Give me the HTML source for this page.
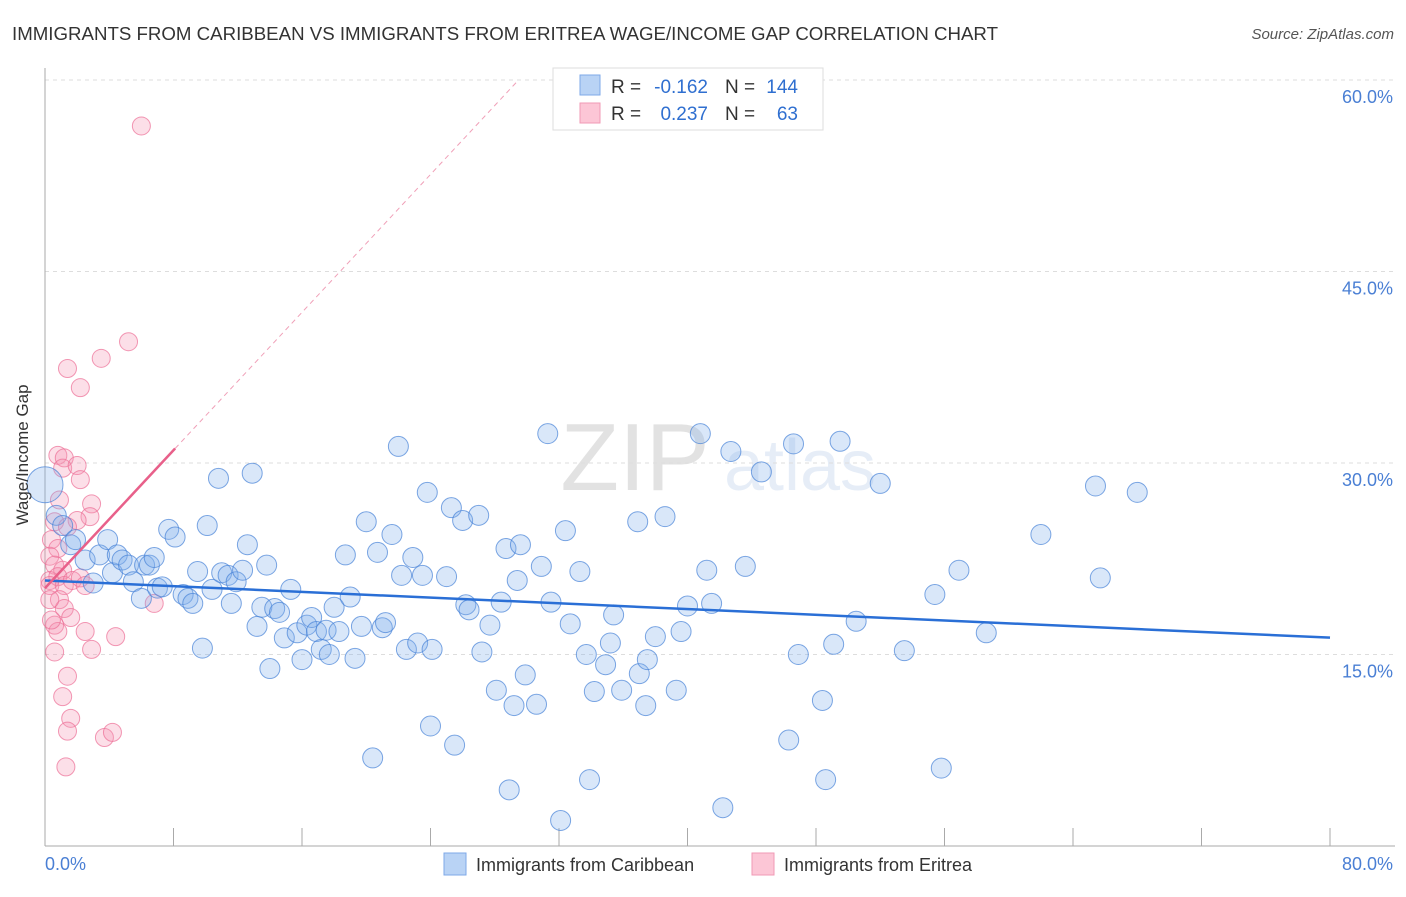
<!DOCTYPE html>
<html><head><meta charset="utf-8"><style>
body{margin:0;background:#fff;font-family:"Liberation Sans",sans-serif;}
svg text{font-family:"Liberation Sans",sans-serif;}
</style></head><body>
<svg id="chart" width="1406" height="892" xmlns="http://www.w3.org/2000/svg">
<text x="12" y="40" font-size="18" fill="#333" textLength="986" lengthAdjust="spacingAndGlyphs">IMMIGRANTS FROM CARIBBEAN VS IMMIGRANTS FROM ERITREA WAGE/INCOME GAP CORRELATION CHART</text>
<text x="1394" y="39" font-size="15" fill="#555" font-style="italic" text-anchor="end">Source: ZipAtlas.com</text>
<g opacity="0.18">
<text x="635" y="490" font-size="96" font-family="Liberation Serif" fill="#666" text-anchor="middle">ZIP</text>
<text x="800" y="490" font-size="72" fill="#7aa0d8" text-anchor="middle">atlas</text>
</g>
<g id="grid"></g>
<g id="axes"></g>
<g id="pts"></g>
<g id="trends"></g>
<text transform="translate(28,455) rotate(-90)" font-size="17" fill="#333" text-anchor="middle">Wage/Income Gap</text>
<g>
<rect x="553" y="68" width="270" height="62" fill="#fff" stroke="#ddd"/>
<rect x="580" y="75" width="20" height="20" fill="#b9d3f5" stroke="#7ea8e8"/>
<rect x="580" y="103" width="20" height="20" fill="#fcc6d6" stroke="#f09ab5"/>
<text x="611" y="93" font-size="19" fill="#333">R =</text>
<text x="708" y="93" font-size="19" fill="#2f6fd0" text-anchor="end">-0.162</text>
<text x="725" y="93" font-size="19" fill="#333">N =</text>
<text x="798" y="93" font-size="19" fill="#2f6fd0" text-anchor="end">144</text>
<text x="611" y="120" font-size="19" fill="#333">R =</text>
<text x="708" y="120" font-size="19" fill="#2f6fd0" text-anchor="end">0.237</text>
<text x="725" y="120" font-size="19" fill="#333">N =</text>
<text x="798" y="120" font-size="19" fill="#2f6fd0" text-anchor="end">63</text>
</g>
<g>
<rect x="444" y="853" width="22" height="22" fill="#b9d3f5" stroke="#7ea8e8"/>
<text x="476" y="871" font-size="18" fill="#333">Immigrants from Caribbean</text>
<rect x="752" y="853" width="22" height="22" fill="#fcc6d6" stroke="#f09ab5"/>
<text x="784" y="871" font-size="18" fill="#333">Immigrants from Eritrea</text>
</g>
</svg>
<script>
const yTicks=[15,30,45,60];
const yTickLabels=["15.0%","30.0%","45.0%","60.0%"];
const xTicks=[0,8,16,24,32,40,48,56,64,72,80];
const xTickLabels=["0.0%","80.0%"];
const blueX=[0,0.7,1.1,1.6,1.9,2.5,3.0,3.4,3.9,4.2,4.5,4.8,5.2,5.5,6.0,6.2,6.5,6.8,7.0,7.3,7.7,8.1,8.6,8.9,9.2,9.5,9.8,10.1,10.4,10.8,11.0,11.4,11.6,11.9,12.3,12.6,12.9,13.2,13.5,13.8,14.0,14.3,14.6,14.9,15.3,15.7,16.0,16.3,16.6,16.9,17.2,17.5,17.7,18.0,18.3,18.7,19.0,19.3,19.7,20.0,20.4,20.7,21.0,21.2,21.6,22.0,22.2,22.5,22.9,23.2,23.5,23.8,24.0,24.1,25.0,25.3,25.5,26.0,26.2,26.4,27.0,27.2,27.7,28.1,28.4,28.7,28.9,29.2,29.4,29.6,29.9,30.6,30.9,31.3,31.5,32.1,32.4,32.7,33.3,33.7,33.9,34.2,34.9,35.2,35.4,35.9,36.9,37.0,37.4,37.5,38.0,38.6,39.3,39.6,40.0,40.8,41.2,41.5,42.2,42.7,43.6,44.6,46.3,46.6,46.9,48.4,48.6,49.1,49.5,50.5,52.0,53.5,55.4,55.8,56.9,58.6,62.0,65.4,65.7,68.0];
const blueY=[28.3,25.9,25.1,23.6,24.0,22.4,20.6,22.8,24.0,21.4,22.8,22.4,22.0,20.7,19.4,22.0,22.0,22.6,20.2,20.3,24.8,24.2,19.7,19.4,19.0,21.5,15.5,25.1,20.1,28.8,21.4,21.2,19.0,20.7,21.6,23.6,29.2,17.2,18.7,22.0,13.9,18.6,18.3,16.3,20.1,16.7,14.6,17.3,17.9,16.8,15.4,16.9,15.0,18.7,16.8,22.8,19.5,14.7,17.2,25.4,6.9,23.0,17.1,17.5,24.4,31.3,21.2,15.4,22.6,15.9,21.2,27.7,9.4,15.4,21.1,26.5,7.9,25.5,18.9,18.5,25.9,15.2,17.3,12.2,19.1,23.3,4.4,11.0,20.8,23.6,13.4,11.1,21.9,32.3,19.1,2.0,24.7,17.4,21.5,15.0,5.2,12.1,14.2,15.9,18.1,12.2,25.4,13.5,11.0,14.6,16.4,25.8,12.2,16.8,18.8,32.3,21.6,19.0,3.0,30.9,21.9,29.3,8.3,31.5,15.0,11.4,5.2,15.8,31.7,17.6,28.4,15.3,19.7,6.1,21.6,16.7,24.4,28.2,21.0,27.7];
const pinkX=[6.0,5.2,3.5,1.4,2.2,0.8,1.2,1.1,2.0,2.2,0.9,2.9,2.8,2.0,0.6,1.4,0.4,0.8,0.3,0.6,1.1,0.3,0.8,0.3,1.2,1.7,2.2,2.5,0.9,1.2,1.6,0.6,0.8,2.5,2.9,4.4,6.8,0.6,1.4,1.1,1.6,1.4,3.7,4.2,1.3,0.3,0.4];
const pinkY=[56.4,39.5,38.2,37.4,35.9,30.6,30.4,29.6,29.8,28.7,27.1,26.8,25.8,25.5,25.4,25.0,24.0,23.3,22.7,22.0,21.6,20.8,21.1,20.4,20.4,20.8,21.0,20.4,19.3,18.6,17.9,17.3,16.8,16.8,15.4,16.4,19.0,15.2,13.3,11.7,10.0,9.0,8.5,8.9,6.2,19.3,17.7];
const blueTrend=[20.8,-0.056];
const pinkTrend=[20.2,1.35];
const X0=45,X1=1330,Y0=846,PPY=191.5/15;
const sx=v=>X0+(v/80)*(X1-X0);
const sy=v=>Y0-v*PPY;
const NS="http://www.w3.org/2000/svg";
function mk(tag,attrs,parent){const e=document.createElementNS(NS,tag);for(const k in attrs)e.setAttribute(k,attrs[k]);parent.appendChild(e);return e;}
const grid=document.getElementById('grid'),axes=document.getElementById('axes'),pts=document.getElementById('pts'),tr=document.getElementById('trends');
yTicks.forEach((t,i)=>{
 const l=mk('line',{x1:X0,x2:1395,y1:sy(t),y2:sy(t),stroke:'#ddd','stroke-dasharray':'4,4'},grid);
 
 
 const tx=mk('text',{x:1393,y:sy(t)+23,'font-size':18,fill:'#4a7fd4','text-anchor':'end'},axes);
 tx.textContent=yTickLabels[i];
 
 
});
let a=mk('line',{x1:X0,x2:X0,y1:68,y2:846,stroke:'#aaa'},axes);


a=mk('line',{x1:X0,x2:1395,y1:846,y2:846,stroke:'#aaa'},axes);


xTicks.forEach(t=>{const l=mk('line',{x1:sx(t),x2:sx(t),y1:828,y2:846,stroke:'#aaa'},axes);
 
 });
let t0=mk('text',{x:45,y:870,'font-size':18,fill:'#4a7fd4'},axes);t0.textContent=xTickLabels[0];


t0=mk('text',{x:1393,y:870,'font-size':18,fill:'#4a7fd4','text-anchor':'end'},axes);t0.textContent=xTickLabels[1];


pinkX.forEach((x,i)=>{const c=mk('circle',{cx:sx(x),cy:sy(pinkY[i]),r:9,fill:'rgba(246,150,180,0.3)',stroke:'rgba(236,110,150,0.7)','stroke-width':1},pts);
 
 });
blueX.forEach((x,i)=>{const c=mk('circle',{cx:sx(x),cy:sy(blueY[i]),r:i===0?18:10,fill:'rgba(130,175,235,0.3)',stroke:'rgba(70,130,215,0.7)','stroke-width':1},pts);
 
 });
let l=mk('line',{x1:sx(0),y1:sy(blueTrend[0]),x2:sx(80),y2:sy(blueTrend[0]+80*blueTrend[1]),stroke:'#2a6fd6','stroke-width':2.5},tr);


const xe=(60-pinkTrend[0])/pinkTrend[1];
l=mk('line',{x1:sx(8.1),y1:sy(pinkTrend[0]+8.1*pinkTrend[1]),x2:sx(xe),y2:sy(60),stroke:'#f0a0b8','stroke-width':1,'stroke-dasharray':'5,4'},tr);


l=mk('line',{x1:sx(0),y1:sy(pinkTrend[0]),x2:sx(8.1),y2:sy(pinkTrend[0]+8.1*pinkTrend[1]),stroke:'#e8608a','stroke-width':2.5},tr);


</script>
</body></html>
